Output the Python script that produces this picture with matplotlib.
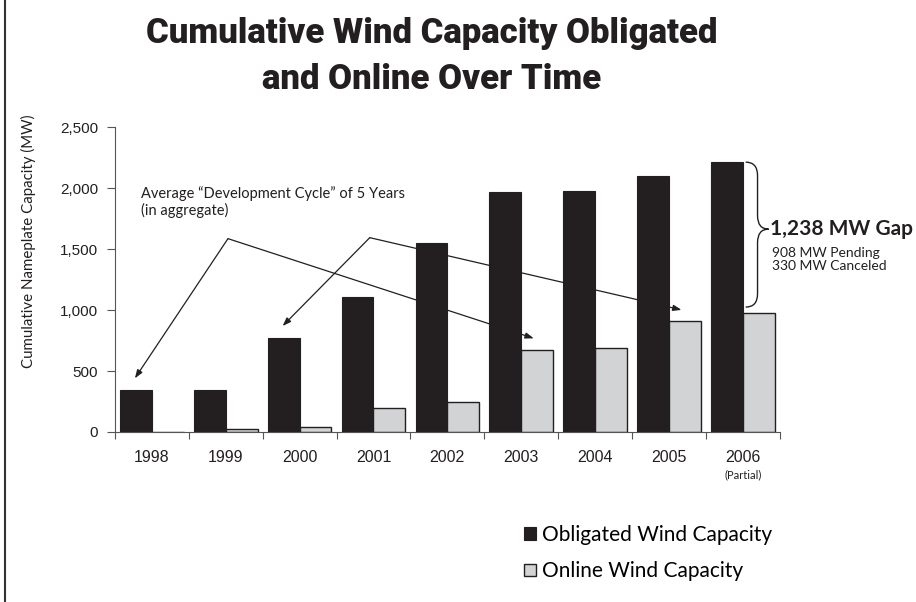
import numpy as np
import matplotlib
matplotlib.use("Agg")
import matplotlib.pyplot as plt
from matplotlib.path import Path
from matplotlib.patches import PathPatch
from matplotlib.lines import Line2D
from matplotlib.ticker import FuncFormatter

# cumulative capacity in MW by year
years = ["1998", "1999", "2000", "2001", "2002", "2003", "2004", "2005", "2006"]
obligated = [345, 345, 774, 1103, 1549, 1965, 1979, 2102, 2212]
online = [0, 25, 38, 200, 249, 673, 692, 906, 974]
pending_mw = 908
canceled_mw = 330

BLACK = "#231f20"
GRAY = "#d1d3d4"
BODY = ["Lato", "DejaVu Sans"]
TITLE = ["Roboto", "DejaVu Sans"]

fig = plt.figure(figsize=(9.16, 6.02), dpi=100)
ax = fig.add_axes([0.1255, 0.2824, 0.7257, 0.5066])

x = np.arange(len(years))
w = 0.43
b1 = ax.bar(x - w / 2, obligated, w, color=BLACK, edgecolor=BLACK, linewidth=0.8,
            label="Obligated Wind Capacity", zorder=2)
b2 = ax.bar(x + w / 2, online, w, color=GRAY, edgecolor=BLACK, linewidth=1.0,
            label="Online Wind Capacity", zorder=2)

ax.set_xlim(-0.5, len(years) - 0.5)
ax.set_ylim(0, 2500)
ax.set_yticks(np.arange(0, 2501, 500))
ax.yaxis.set_major_formatter(FuncFormatter(lambda v, p: f"{int(v):,}"))
ax.set_xticks(np.arange(-0.5, len(years), 1.0))
ax.set_xticklabels([])
ax.set_xticks(x, minor=True)
ax.set_xticklabels(years, minor=True)
ax.tick_params(axis="x", which="major", direction="out", length=5, width=0.8, color="#555555")
ax.tick_params(axis="x", which="minor", length=0, pad=13, labelsize=11.5)
ax.tick_params(axis="y", direction="out", length=6, width=0.8, color="#555555",
               labelsize=11, pad=6)
for lab in ax.get_xticklabels(minor=True) + ax.get_yticklabels():
    lab.set_fontfamily(["Liberation Sans", "DejaVu Sans"])
    lab.set_color(BLACK)
for s in ["top", "right"]:
    ax.spines[s].set_visible(False)
for s in ["left", "bottom"]:
    ax.spines[s].set_color("#555555")
    ax.spines[s].set_linewidth(0.8)

ax.text(x[-1], -350, "(Partial)", ha="center", va="center", fontsize=8,
        family=BODY, color=BLACK, clip_on=False)

# development cycle callout
ax.text(-0.15, 1885, "Average \u201cDevelopment Cycle\u201d of 5 Years\n(in aggregate)",
        ha="left", va="center", fontsize=10.5, family=BODY, color=BLACK, linespacing=1.1)
arrow = dict(arrowstyle="-|>,head_length=0.5,head_width=0.18", color=BLACK, lw=0.9,
             shrinkA=0, shrinkB=0)
apexes = [(1.03, 1585), (2.95, 1593)]
targets = [[(0, obligated[0]), (5, online[5])], [(2, obligated[2]), (7, online[7])]]
for (axp, ayp), pair in zip(apexes, targets):
    for i, (k, v) in enumerate(pair):
        tx = k - 0.23 if i == 0 else k + 0.17
        ax.annotate("", xy=(tx, v + 95), xytext=(axp, ayp), arrowprops=arrow,
                    annotation_clip=False)

# brace marking the gap on the last year
top, bot = obligated[-1], online[-1] + 50
mid = (top + bot) / 2 + 45
x0, x1, x2, r = 8.04, 8.20, 8.35, 110
verts = [(x0, top), (x1, top), (x1, top - r), (x1, mid + r), (x1, mid), (x2, mid),
         (x1, mid), (x1, mid - r), (x1, bot + r), (x1, bot), (x0, bot)]
codes = [Path.MOVETO, Path.CURVE3, Path.CURVE3, Path.LINETO, Path.CURVE3, Path.CURVE3,
         Path.CURVE3, Path.CURVE3, Path.LINETO, Path.CURVE3, Path.CURVE3]
ax.add_patch(PathPatch(Path(verts, codes), fill=False, edgecolor=BLACK, lw=1.0,
                       clip_on=False))
gap = obligated[-1] - online[-1]
ax.text(8.37, mid, f"{gap:,} MW Gap", ha="left", va="center", fontsize=15,
        fontweight="bold", family=BODY, color=BLACK, clip_on=False)
ax.text(8.40, mid - 245, f"{pending_mw} MW Pending\n{canceled_mw} MW Canceled",
        ha="left", va="center", fontsize=10, family=BODY, color=BLACK, linespacing=1.1,
        clip_on=False)

title_kw = dict(ha="center", va="baseline", fontsize=25, fontweight="black",
                family=TITLE, color=BLACK)
fig.text(432 / 916, 1 - 43 / 602, "Cumulative Wind Capacity Obligated", **title_kw)
fig.text(432 / 916, 1 - 89 / 602, "and Online Over Time", **title_kw)
fig.text(28 / 916, 1 - 241 / 602, "Cumulative Nameplate Capacity (MW)", rotation=90,
         ha="center", va="center", fontsize=10.8, family=BODY, color=BLACK)

fig.legend(handles=[b1, b2], loc="center left", bbox_to_anchor=(514 / 916, 1 - 553 / 602),
           frameon=False, handlelength=0.55, handleheight=0.55, handletextpad=0.3,
           labelspacing=0.8, borderpad=0, prop={"family": BODY, "size": 15})

fig.add_artist(Line2D([5 / 916, 5 / 916], [0, 1], transform=fig.transFigure,
                      color="#333333", lw=1.5))

fig.savefig("out.png", dpi=100)
